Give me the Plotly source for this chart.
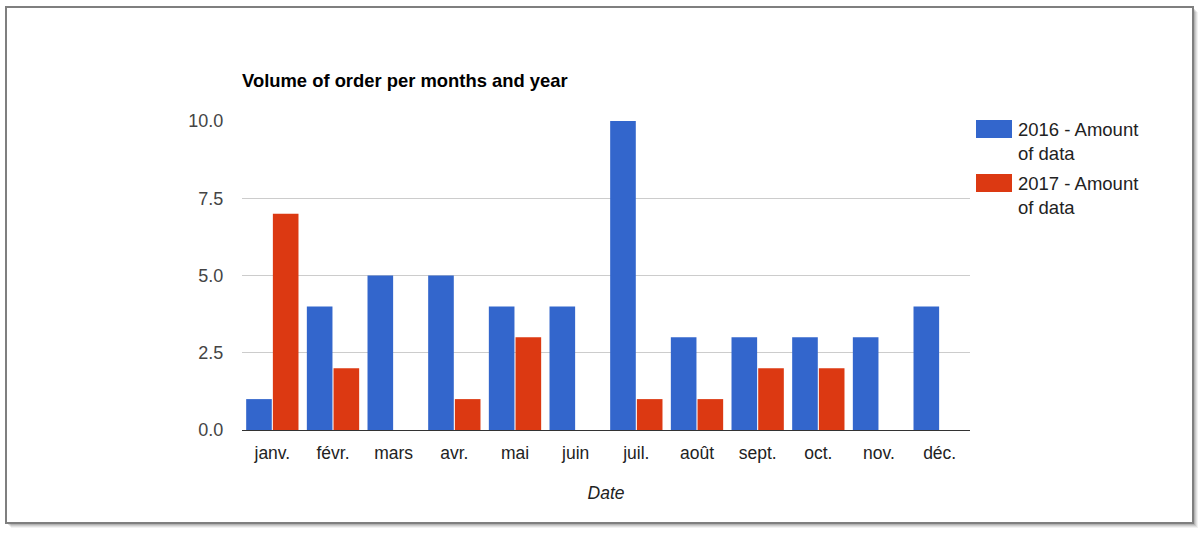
import plotly.graph_objects as go

# months on the x axis (French short labels, like the source chart)
months = ["janv.", "févr.", "mars", "avr.", "mai", "juin",
          "juil.", "août", "sept.", "oct.", "nov.", "déc."]

# amount of orders per month, None where the year has no bar
amount_2016 = [1, 4, 5, 5, 4, 4, 10, 3, 3, 3, 3, 4]
amount_2017 = [7, 2, None, 1, 3, None, 1, 1, 2, 2, None, None]

series_names = ["2016 - Amount<br>of data", "2017 - Amount<br>of data"]
series_colors = ["#3366CC", "#DC3912"]

W, H = 1204, 538
L, R, T, B = 242, 970, 121, 430  # plot area in pixels


# pixel -> paper coords, so the frame and the legend can sit outside the plot area
def px_x(x):
    return (x - L) / (R - L)


def px_y(y):
    return (B - y) / (B - T)


fig = go.Figure()
for name, vals, col in zip(series_names, [amount_2016, amount_2017], series_colors):
    fig.add_trace(go.Bar(x=months, y=vals, name=name, marker_color=col,
                         marker_line_width=0, showlegend=False))

shapes = []
# soft shadow of the outer frame, then the frame itself
for k, op in [(5, 0.05), (4, 0.07), (3, 0.09), (2, 0.12), (1, 0.16)]:
    shapes.append(dict(type="rect", xref="paper", yref="paper", layer="below",
                       x0=px_x(6 + k), x1=px_x(1193 + k), y0=px_y(523 + k), y1=px_y(7 + k),
                       line_width=0, fillcolor="rgba(0,0,0,%s)" % op))
shapes.append(dict(type="rect", xref="paper", yref="paper", layer="below",
                   x0=px_x(6), x1=px_x(1193), y0=px_y(523), y1=px_y(7),
                   line=dict(color="#7f7f7f", width=2), fillcolor="white"))

# hand made legend, the google style wide colour boxes
annotations = []
for i, (name, col) in enumerate(zip(series_names, series_colors)):
    top = 120 + i * 54
    shapes.append(dict(type="rect", xref="paper", yref="paper",
                       x0=px_x(976), x1=px_x(1012), y0=px_y(top + 18), y1=px_y(top),
                       line_width=0, fillcolor=col))
    annotations.append(dict(xref="paper", yref="paper", x=px_x(1016), y=px_y(top - 3),
                            xanchor="left", yanchor="top", align="left", showarrow=False,
                            text=name, font=dict(size=18.5, color="#222222")))

fig.update_layout(
    width=W, height=H,
    margin=dict(l=L, r=W - R, t=T, b=H - B),
    paper_bgcolor="white", plot_bgcolor="white",
    font=dict(family="Liberation Sans, Arial, sans-serif", size=18, color="#444444"),
    title=dict(text="<b>Volume of order per months and year</b>", xref="paper", x=0,
               xanchor="left", yref="container", y=1 - 81 / H, yanchor="middle",
               font=dict(size=18.4, color="#000000")),
    barmode="group", bargap=0.12, bargroupgap=0.04,
    shapes=shapes, annotations=annotations,
    xaxis=dict(title=dict(text="<i>Date</i>", font=dict(size=17.5, color="#222222"), standoff=24),
               showgrid=False, showline=False, ticks="outside", ticklen=7,
               tickcolor="rgba(0,0,0,0)", tickfont=dict(size=17.5, color="#222222")),
    yaxis=dict(range=[0, 10], tickvals=[0, 2.5, 5, 7.5, 10], tickformat=".1f",
               gridcolor="#cccccc", gridwidth=1, zeroline=True, zerolinecolor="#333333",
               zerolinewidth=1, showline=False, ticks="outside", ticklen=14,
               tickcolor="rgba(0,0,0,0)", tickfont=dict(size=18, color="#444444")),
)

# page body has an 8px default margin, drop it so the chart sits at the window corner
fig.write_html("out.html", config={"displayModeBar": False},
               post_script="document.body.style.margin='0';")
